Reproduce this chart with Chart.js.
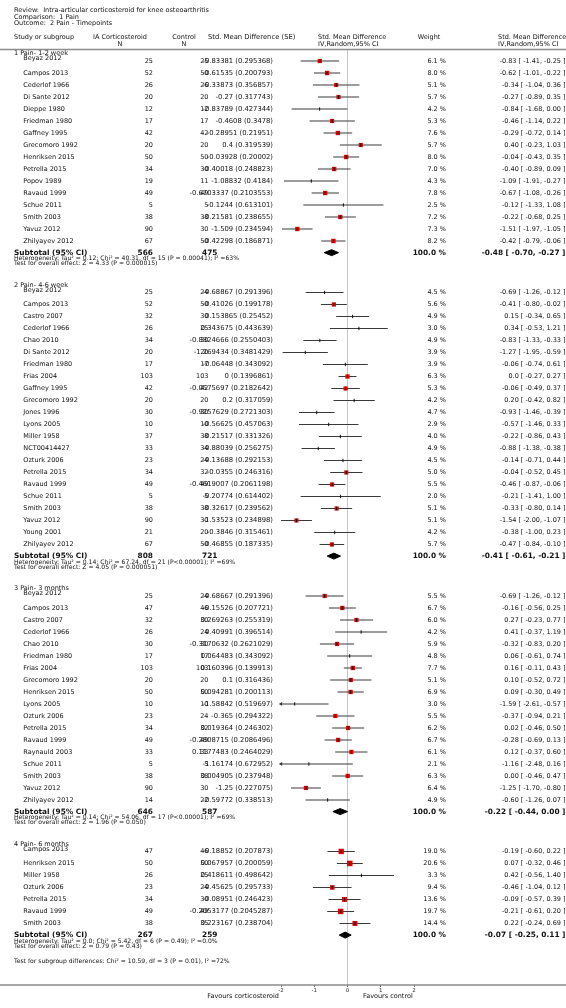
<!DOCTYPE html>
<html>
<head>
<meta charset="utf-8">
<script src="https://cdn.jsdelivr.net/npm/chart.js"></script>
<style>
  html, body { margin: 0; padding: 0; background: #fff; }
  canvas { display: block; }
</style>
</head>
<body>
<canvas id="forest" width="566" height="1008" style="width:566px;height:1008px"></canvas>
<script>
"use strict";

// 表のデータ
const groupLabels = ["1 Pain- 1-2 week", "2 Pain- 4-6 week", "3 Pain- 3 months", "4 Pain- 6 months"];
const groupSizes = [16, 22, 18, 7];

const studies = [
    "Beyaz 2012", "Campos 2013", "Cederlof 1966", "Di Sante 2012", "Dieppe 1980", "Friedman 1980", "Gaffney 1995", "Grecomoro 1992",
    "Henriksen 2015", "Petrella 2015", "Popov 1989", "Ravaud 1999", "Schue 2011", "Smith 2003", "Yavuz 2012", "Zhilyayev 2012",
    "Beyaz 2012", "Campos 2013", "Castro 2007", "Cederlof 1966", "Chao 2010", "Di Sante 2012", "Friedman 1980", "Frias 2004",
    "Gaffney 1995", "Grecomoro 1992", "Jones 1996", "Lyons 2005", "Miller 1958", "NCT00414427", "Ozturk 2006", "Petrella 2015",
    "Ravaud 1999", "Schue 2011", "Smith 2003", "Yavuz 2012", "Young 2001", "Zhilyayev 2012",
    "Beyaz 2012", "Campos 2013", "Castro 2007", "Cederlof 1966", "Chao 2010", "Friedman 1980", "Frias 2004", "Grecomoro 1992",
    "Henriksen 2015", "Lyons 2005", "Ozturk 2006", "Petrella 2015", "Ravaud 1999", "Raynauld 2003", "Schue 2011", "Smith 2003",
    "Yavuz 2012", "Zhilyayev 2012",
    "Campos 2013", "Henriksen 2015", "Miller 1958", "Ozturk 2006", "Petrella 2015", "Ravaud 1999", "Smith 2003",
];

const iaN = [
    25, 52, 26, 20, 12, 17, 42, 20, 50, 34, 19, 49, 5, 38, 90, 67,
    25, 52, 32, 26, 34, 20, 17, 103, 42, 20, 30, 10, 37, 33, 23, 34, 49, 5, 38, 90, 21, 67,
    25, 47, 32, 26, 30, 17, 103, 20, 50, 10, 23, 34, 49, 33, 5, 38, 90, 14,
    47, 50, 26, 23, 34, 49, 38,
];

const ctrlN = [
    25, 50, 26, 20, 12, 17, 42, 20, 50, 30, 11, 49, 5, 38, 30, 50,
    24, 50, 30, 25, 30, 20, 17, 103, 42, 20, 30, 10, 38, 34, 24, 32, 49, 5, 38, 30, 20, 50,
    24, 46, 30, 24, 30, 17, 103, 20, 50, 10, 24, 32, 49, 33, 5, 38, 30, 22,
    46, 50, 25, 24, 30, 49, 35,
];

const smd = [
    -0.83381, -0.61535, -0.33873, -0.27, -0.83789, -0.4608, -0.28951, 0.4, -0.03928, -0.40018, -1.08832, -0.6703337, -0.1244, -0.21581, -1.509, -0.42298,
    -0.68867, -0.41026, 0.153865, 0.343675, -0.8324666, -1.269434, -0.06448, 0, -0.0575697, 0.2, -0.9257629, -0.56625, -0.21517, -0.88039, -0.13688, -0.0355,
    -0.4619007, -0.20774, -0.32617, -1.53523, -0.3846, -0.46855,
    -0.68667, -0.15526, 0.269263, 0.40991, -0.3170632, 0.064483, 0.160396, 0.1, 0.094281, -1.58842, -0.365, 0.019364, -0.2808715, 0.1177483, -1.16174, 0.004905,
    -1.25, -0.59772,
    -0.18852, 0.067957, 0.418611, -0.45625, -0.08951, -0.2053177, 0.223167,
];

const se = [
    0.295368, 0.200793, 0.356857, 0.317743, 0.427344, 0.3478, 0.21951, 0.319539, 0.20002, 0.248823, 0.4184, 0.2103553, 0.613101, 0.238655, 0.234594, 0.186871,
    0.291396, 0.199178, 0.25452, 0.443639, 0.2550403, 0.3481429, 0.343092, 0.1396861, 0.2182642, 0.317059, 0.2721303, 0.457063, 0.331326, 0.256275, 0.292153, 0.246316,
    0.2061198, 0.614402, 0.239562, 0.234898, 0.315461, 0.187335,
    0.291396, 0.207721, 0.255319, 0.396514, 0.2621029, 0.343092, 0.139913, 0.316436, 0.200113, 0.519697, 0.294322, 0.246302, 0.2086496, 0.2464029, 0.672952, 0.237948,
    0.227075, 0.338513,
    0.207873, 0.200059, 0.498642, 0.295733, 0.246423, 0.2045287, 0.238704,
];

const est = [
    -0.83, -0.62, -0.34, -0.27, -0.84, -0.46, -0.29, 0.40, -0.04, -0.40, -1.09, -0.67, -0.12, -0.22, -1.51, -0.42,
    -0.69, -0.41, 0.15, 0.34, -0.83, -1.27, -0.06, 0.0, -0.06, 0.20, -0.93, -0.57, -0.22, -0.88, -0.14, -0.04, -0.46, -0.21, -0.33, -1.54, -0.38, -0.47,
    -0.69, -0.16, 0.27, 0.41, -0.32, 0.06, 0.16, 0.10, 0.09, -1.59, -0.37, 0.02, -0.28, 0.12, -1.16, 0.00, -1.25, -0.60,
    -0.19, 0.07, 0.42, -0.46, -0.09, -0.21, 0.22,
];

const lo = [
    -1.41, -1.01, -1.04, -0.89, -1.68, -1.14, -0.72, -0.23, -0.43, -0.89, -1.91, -1.08, -1.33, -0.68, -1.97, -0.79,
    -1.26, -0.80, -0.34, -0.53, -1.33, -1.95, -0.74, -0.27, -0.49, -0.42, -1.46, -1.46, -0.86, -1.38, -0.71, -0.52, -0.87, -1.41, -0.80, -2.00, -1.00, -0.84,
    -1.26, -0.56, -0.23, -0.37, -0.83, -0.61, -0.11, -0.52, -0.30, -2.61, -0.94, -0.46, -0.69, -0.37, -2.48, -0.46, -1.70, -1.26,
    -0.60, -0.32, -0.56, -1.04, -0.57, -0.61, -0.24,
];

const hi = [
    -0.25, -0.22, 0.36, 0.35, 0.00, 0.22, 0.14, 1.03, 0.35, 0.09, -0.27, -0.26, 1.08, 0.25, -1.05, -0.06,
    -0.12, -0.02, 0.65, 1.21, -0.33, -0.59, 0.61, 0.27, 0.37, 0.82, -0.39, 0.33, 0.43, -0.38, 0.44, 0.45, -0.06, 1.00, 0.14, -1.07, 0.23, -0.10,
    -0.12, 0.25, 0.77, 1.19, 0.20, 0.74, 0.43, 0.72, 0.49, -0.57, 0.21, 0.50, 0.13, 0.60, 0.16, 0.47, -0.80, 0.07,
    0.22, 0.46, 1.40, 0.12, 0.39, 0.20, 0.69,
];

const weight = [
    6.1, 8.0, 5.1, 5.7, 4.2, 5.3, 7.6, 5.7, 8.0, 7.0, 4.3, 7.8, 2.5, 7.2, 7.3, 8.2,
    4.5, 5.6, 4.9, 3.0, 4.9, 3.9, 3.9, 6.3, 5.3, 4.2, 4.7, 2.9, 4.0, 4.9, 4.5, 5.0, 5.5, 2.0, 5.1, 5.1, 4.2, 5.7,
    5.5, 6.7, 6.0, 4.2, 5.9, 4.8, 7.7, 5.1, 6.9, 3.0, 5.5, 6.2, 6.7, 6.1, 2.1, 6.3, 6.4, 4.9,
    19.0, 20.6, 3.3, 9.4, 13.6, 19.7, 14.4,
];

// サブトータル
const subIaN = [566, 808, 646, 267];
const subCtrlN = [475, 721, 587, 259];
const subEst = [-0.48, -0.41, -0.22, -0.07];
const subLo = [-0.70, -0.61, -0.44, -0.25];
const subHi = [-0.27, -0.21, 0.00, 0.11];
const hetText = [
    "Heterogeneity: Tau² = 0.12; Chi² = 40.31, df = 15 (P = 0.00041); I² =63%",
    "Heterogeneity: Tau² = 0.14; Chi² = 67.24, df = 21 (P<0.00001); I² =69%",
    "Heterogeneity: Tau² = 0.14; Chi² = 54.06, df = 17 (P<0.00001); I² =69%",
    "Heterogeneity: Tau² = 0.0; Chi² = 5.42, df = 6 (P = 0.49); I² =0.0%",
];
const effectText = [
    "Test for overall effect: Z = 4.33 (P = 0.000015)",
    "Test for overall effect: Z = 4.05 (P = 0.000051)",
    "Test for overall effect: Z = 1.96 (P = 0.050)",
    "Test for overall effect: Z = 0.79 (P = 0.43)",
];
const subgroupText = "Test for subgroup differences: Chi² = 10.59, df = 3 (P = 0.01), I² =72%";

const xTicks = [-2, -1, 0, 1, 2];
const X_MIN = -2;
const X_MAX = 2;
const ROWS = 78;

// 行の位置 (1行 = 12px)
const studyRows = [];
const groupOf = [];
const firstRows = [];
const subRows = [];
let cursor = 1;
groupSizes.forEach((n, g) => {
    firstRows.push(cursor);
    for (let i = 0; i < n; i++) {
        studyRows.push(cursor);
        groupOf.push(g);
        cursor += 1;
    }
    const sub = cursor - 1 + 0.97;
    subRows.push(sub);
    cursor = sub + 3.32;
});

const fmt2 = (v) => (Math.abs(v) < 0.005 ? 0 : v).toFixed(2);
const ciText = (e, l, h) => `${e} [ ${fmt2(l)}, ${fmt2(h)} ]`;

// データセット
const ciData = [];
const arrowData = [];
studies.forEach((name, i) => {
    const y = studyRows[i];
    ciData.push({ x: Math.max(lo[i], X_MIN), y: y }, { x: hi[i], y: y }, { x: hi[i], y: null });
    if (lo[i] < X_MIN) {
        arrowData.push({ x: X_MIN, y: y });
    }
});
const pointData = studies.map((name, i) => ({ x: smd[i], y: studyRows[i] }));
const squareRadius = weight.map((w) => (w >= 5 ? (3.7 + 0.09 * w) / Math.SQRT2 : 0));

const diamondSets = subEst.map((e, g) => {
    const y = subRows[g];
    return {
        type: "line",
        data: [
            { x: subLo[g], y: y },
            { x: e, y: y - 0.25 },
            { x: subHi[g], y: y },
            { x: e, y: y + 0.25 },
            { x: subLo[g], y: y },
        ],
        borderColor: "#000",
        backgroundColor: "#000",
        borderWidth: 1,
        pointRadius: 0,
        fill: "shape",
        tension: 0,
    };
});

const TEXT = "#111";
const FONT = '"DejaVu Sans", sans-serif';

const tablePlugin = {
    id: "tableText",
    afterDraw(chart) {
        const ctx = chart.ctx;
        const yScale = chart.scales.y;
        const py = (r) => yScale.getPixelForValue(r);
        ctx.save();
        ctx.fillStyle = TEXT;
        ctx.textBaseline = "middle";

        const txt = (s, x, y, align, font) => {
            ctx.font = font;
            ctx.textAlign = align;
            ctx.fillText(s, x, y);
        };
        const norm = `6.5px ${FONT}`;
        const num = `6.8px ${FONT}`;
        const bold = `bold 7.4px ${FONT}`;
        const small = `6.1px ${FONT}`;

        // タイトル
        txt("Review:  Intra-articular corticosteroid for knee osteoarthritis", 14, 10.7, "left", norm);
        txt("Comparison:  1 Pain", 14, 17, "left", norm);
        txt("Outcome:  2 Pain - Timepoints", 14, 23.8, "left", norm);

        // 見出し
        txt("Study or subgroup", 14, 37.6, "left", norm);
        txt("IA Corticosteroid", 120, 37.6, "center", norm);
        txt("N", 120, 44.3, "center", norm);
        txt("Control", 184, 37.6, "center", norm);
        txt("N", 184, 44.3, "center", norm);
        txt("Std. Mean Difference (SE)", 208, 37.6, "left", num);
        txt("Std. Mean Difference", 318, 37.6, "left", norm);
        txt("IV,Random,95% CI", 318, 44.3, "left", norm);
        txt("Weight", 429, 37.6, "center", norm);
        txt("Std. Mean Difference", 498, 37.6, "left", norm);
        txt("IV,Random,95% CI", 498, 44.3, "left", norm);

        // 罫線
        ctx.strokeStyle = "#8c8c8c";
        ctx.lineWidth = 1.6;
        ctx.beginPath();
        ctx.moveTo(0, 49.5);
        ctx.lineTo(566, 49.5);
        ctx.moveTo(0, chart.chartArea.bottom);
        ctx.lineTo(566, chart.chartArea.bottom);
        ctx.stroke();

        // 各研究
        studies.forEach((name, i) => {
            const y = py(studyRows[i]);
            const g = groupOf[i];
            const first = studyRows[i] === firstRows[g];
            if (first) {
                txt(groupLabels[g], 14, y - 7.5, "left", norm);
            }
            txt(name, 23.3, first ? y - 2.5 : y, "left", norm);
            txt(String(iaN[i]), 153, y, "right", norm);
            txt(String(ctrlN[i]), 208.5, y, "right", norm);
            txt(`${smd[i]} (${se[i]})`, 273, y, "right", num);
            txt(`${weight[i].toFixed(1)} %`, 446, y, "right", norm);
            const e = smd[i] === 0 ? "0.0" : fmt2(est[i]);
            txt(ciText(e, lo[i], hi[i]), 565.5, y, "right", norm);
        });

        // サブトータル
        subRows.forEach((r, g) => {
            const y = py(r);
            txt("Subtotal (95% CI)", 14, y, "left", bold);
            txt(String(subIaN[g]), 153, y, "right", bold);
            txt(String(subCtrlN[g]), 202, y, "left", bold);
            txt("100.0 %", 446, y, "right", bold);
            txt(ciText(fmt2(subEst[g]), subLo[g], subHi[g]), 565.5, y, "right", bold);
            txt(hetText[g], 14, py(r + 0.51), "left", small);
            txt(effectText[g], 14, py(r + 0.93), "left", small);
        });
        txt(subgroupText, 14, py(subRows[subRows.length - 1] + 2.17), "left", small);

        // 軸の説明
        txt("Favours corticosteroid", 279, 996, "right", norm);
        txt("Favours control", 363, 996, "left", norm);
        ctx.restore();
    },
};

const drawChart = () => {
    const context = document.getElementById("forest").getContext("2d");
    return new Chart(context, {
        type: "scatter",
        data: {
            datasets: [
                {
                    // 点推定の縦線
                    data: pointData,
                    pointStyle: "line",
                    rotation: 90,
                    pointRadius: 1.7,
                    borderColor: "#111",
                    borderWidth: 1,
                },
                {
                    // 重みの四角
                    data: pointData,
                    pointStyle: "rect",
                    pointRadius: squareRadius,
                    backgroundColor: "#e60000",
                    borderWidth: 0,
                },
                {
                    // 範囲外の矢印
                    data: arrowData,
                    pointStyle: "triangle",
                    rotation: 270,
                    pointRadius: 2.2,
                    backgroundColor: "#333",
                    borderWidth: 0,
                    clip: false,
                },
                ...diamondSets,
                {
                    // 信頼区間
                    type: "line",
                    data: ciData,
                    borderColor: "#3a3a3a",
                    borderWidth: 1.1,
                    pointRadius: 0,
                    spanGaps: false,
                    tension: 0,
                },
                {
                    // ゼロの線
                    type: "line",
                    data: [{ x: 0, y: 0 }, { x: 0, y: ROWS }],
                    borderColor: "#c6c6c6",
                    borderWidth: 1,
                    pointRadius: 0,
                },
            ],
        },
        options: {
            responsive: false,
            animation: false,
            events: [],
            layout: {
                padding: { left: 281, right: 152, top: 49, bottom: 0 },
            },
            plugins: {
                legend: { display: false },
                tooltip: { enabled: false },
            },
            scales: {
                x: {
                    type: "linear",
                    min: X_MIN,
                    max: X_MAX,
                    afterBuildTicks: (scale) => {
                        scale.ticks = xTicks.map((v) => ({ value: v }));
                    },
                    afterFit: (scale) => {
                        scale.height = 23;
                    },
                    ticks: {
                        font: { size: 5.5, family: FONT },
                        color: "#333",
                        padding: 0,
                        maxRotation: 0,
                    },
                    grid: {
                        drawOnChartArea: false,
                        drawTicks: true,
                        tickLength: 2,
                        color: "#666",
                    },
                    border: { display: false },
                },
                y: {
                    type: "linear",
                    min: 0,
                    max: ROWS,
                    reverse: true,
                    display: false,
                },
            },
        },
        plugins: [tablePlugin],
    });
};

drawChart();
</script>
</body>
</html>
